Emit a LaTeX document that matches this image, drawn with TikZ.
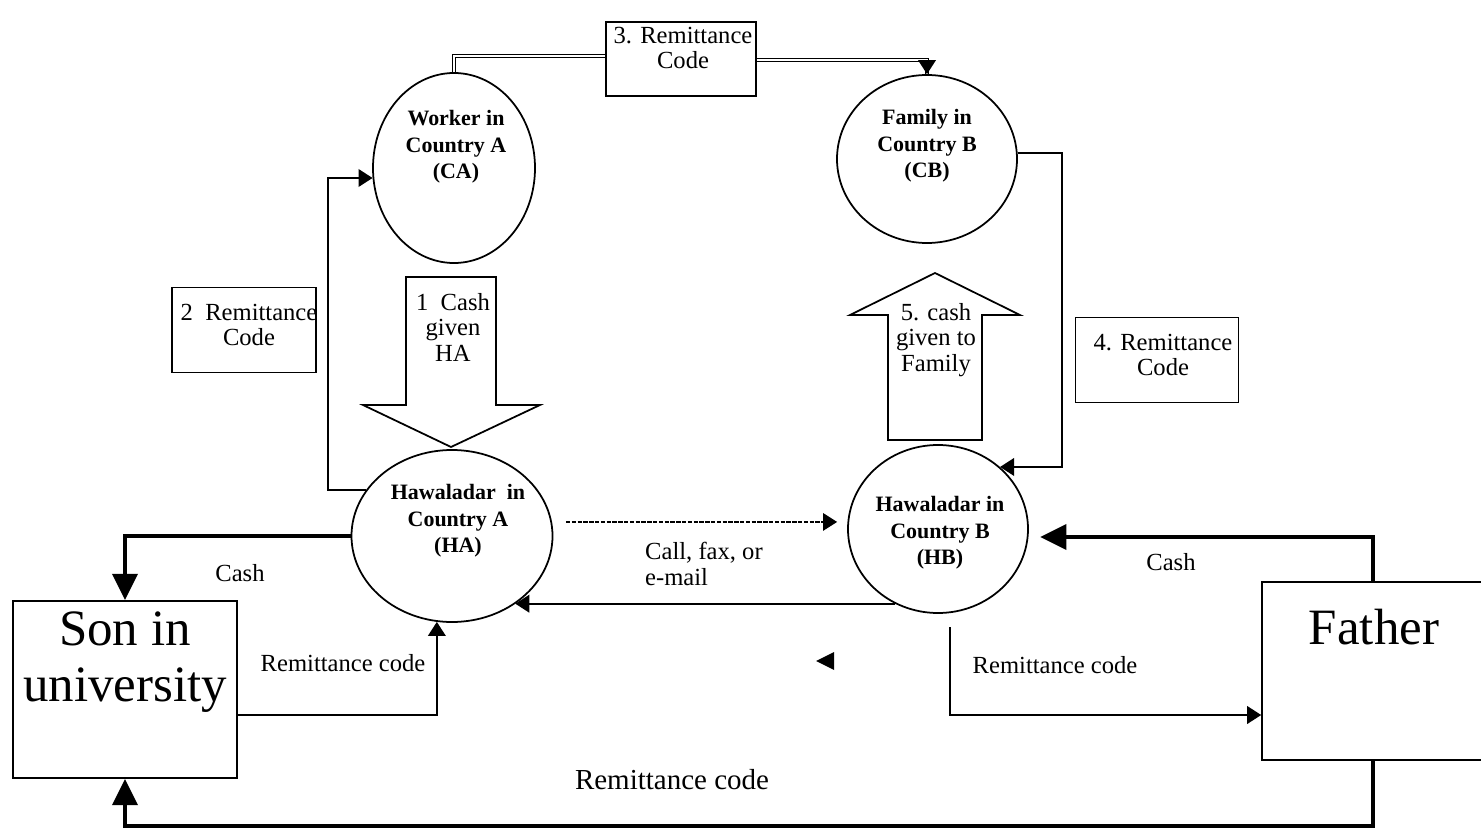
\documentclass[tikz,border=0pt]{standalone}
\usepackage{fontspec}
\setmainfont{Liberation Serif}
\usepackage{tikz}
\usetikzlibrary{arrows.meta,shapes.geometric,calc}
\newcommand{\pxl}{0.02cm}

\begin{document}
\begin{tikzpicture}[x=\pxl,y=-\pxl,
  bubble/.style={draw,ellipse,line width=1pt,inner sep=0pt},
  bubtext/.style={align=center,font=\fontsize{12.5}{15}\selectfont\bfseries},
  cbox/.style={draw,rectangle,line width=0.9pt,inner sep=0pt},
  lbl/.style={align=center,font=\fontsize{14}{14.5}\selectfont},
  bigtext/.style={align=center,font=\fontsize{29}{32}\selectfont},
  conn/.style={line width=1.1pt,-{Triangle[length=8pt,width=10pt]}},
  thickconn/.style={line width=2.8pt,-{Triangle[length=15pt,width=14pt]}},
  dbl/.style={double,line width=0.6pt,double distance=1.2pt},
  dotconn/.style={line width=0.7pt,dash pattern=on 2.5pt off 0.8pt,-{Triangle[length=8pt,width=10pt]}},
  blockarrow/.style={draw,line width=1pt}]
\useasboundingbox (0,0) rectangle (1481,831);
\clip (0,0) rectangle (1481,831);

\node[bubble,minimum width=162*\pxl,minimum height=190*\pxl] (ca) at (454,168) {};
\node[bubtext] (catext) at (456,147) {Worker in\\Country A\\(CA)};
\node[bubble,minimum width=180*\pxl,minimum height=168*\pxl] (cb) at (927,159) {};
\node[bubtext] (cbtext) at (927,146) {Family in\\Country B\\(CB)};
\node[bubble,minimum width=201*\pxl,minimum height=172*\pxl] (ha) at (452,536) {};
\node[bubtext] (hatext) at (458,521) {Hawaladar~~in\\Country A\\(HA)};
\node[bubble,minimum width=180*\pxl,minimum height=168*\pxl] (hb) at (938,529) {};
\node[bubtext] (hbtext) at (940,533) {Hawaladar in\\Country B\\(HB)};

\node[cbox,minimum width=150*\pxl,minimum height=74*\pxl] (rc3) at (681,59) {};
\node[lbl] (rc3text) at (683,48) {3. Remittance\\Code};
\node[cbox,minimum width=144*\pxl,minimum height=85*\pxl] (rc2) at (244,330) {};
\node[lbl] (rc2text) at (249,325) {2~~Remittance\\Code};
\node[cbox,minimum width=163*\pxl,minimum height=85*\pxl] (rc4) at (1157,360) {};
\node[lbl] (rc4text) at (1163,355) {4. Remittance\\Code};
\node[cbox,minimum width=224*\pxl,minimum height=177*\pxl] (son) at (125,689.5) {};
\node[bigtext] (sontext) at (125,662) {Son in\\university};
\node[cbox,minimum width=222*\pxl,minimum height=178*\pxl] (father) at (1373,671) {};
\node[bigtext] (fathertext) at (1374,627) {Father};

\draw[blockarrow] (406,277) -- (496,277) -- (496,405) -- (540,405) -- (451,447) -- (363,405) -- (406,405) -- cycle;
\node[lbl] (cash1) at (453,327) {1~~Cash\\given\\HA};
\draw[blockarrow] (888,440) -- (982,440) -- (982,315) -- (1020,315) -- (935,273) -- (850,315) -- (888,315) -- cycle;
\node[lbl] (cash5) at (936,340) {5. cash\\given to\\Family};

\draw[dbl] (ca.north) |- (rc3.west |- 0,56);
\draw[dbl] (rc3.east |- 0,60) -| (cb.north);
\draw[conn] ($(cb.north)+(0,-14)$) -- (cb.north);
\draw[conn] (ha.152) -| (328,300) |- (ca.187);
\draw[conn] (cb.4) -| (1062,300) |- (hb.45);
\draw[thickconn] (ha.west) -| (son.north);
\draw[conn] (son.east |- 0,715) -| (ha.260);
\draw[conn] (hb.240) -- (hb.240 -| ha.313);
\draw[dotconn,shorten <=14*\pxl,shorten >=10*\pxl] (ha.8) -- (ha.8 -| hb.west);
\coordinate (hbin) at (1040,537);
\draw[thickconn] (father.north) |- (hbin);
\coordinate (hbout) at (950,627);
\draw[conn] (hbout) |- (father.west |- 0,715);
\draw[thickconn] (father.south) -- (father.south |- 0,826) -| (son.south);
\fill (816,661) -- (834,652) -- (834,670) -- cycle;

\node[lbl] (cashl) at (240,573) {Cash};
\node[lbl] (codel) at (343,663) {Remittance code};
\node[lbl,align=left,anchor=west] (callfax) at (639,564) {Call, fax, or\\e-mail};
\node[lbl] (cashr) at (1171,562) {Cash};
\node[lbl] (coder) at (1055,665) {Remittance code};
\node[lbl,font=\fontsize{16.5}{18}\selectfont] (codeb) at (672,780) {Remittance code};
\end{tikzpicture}
\end{document}
